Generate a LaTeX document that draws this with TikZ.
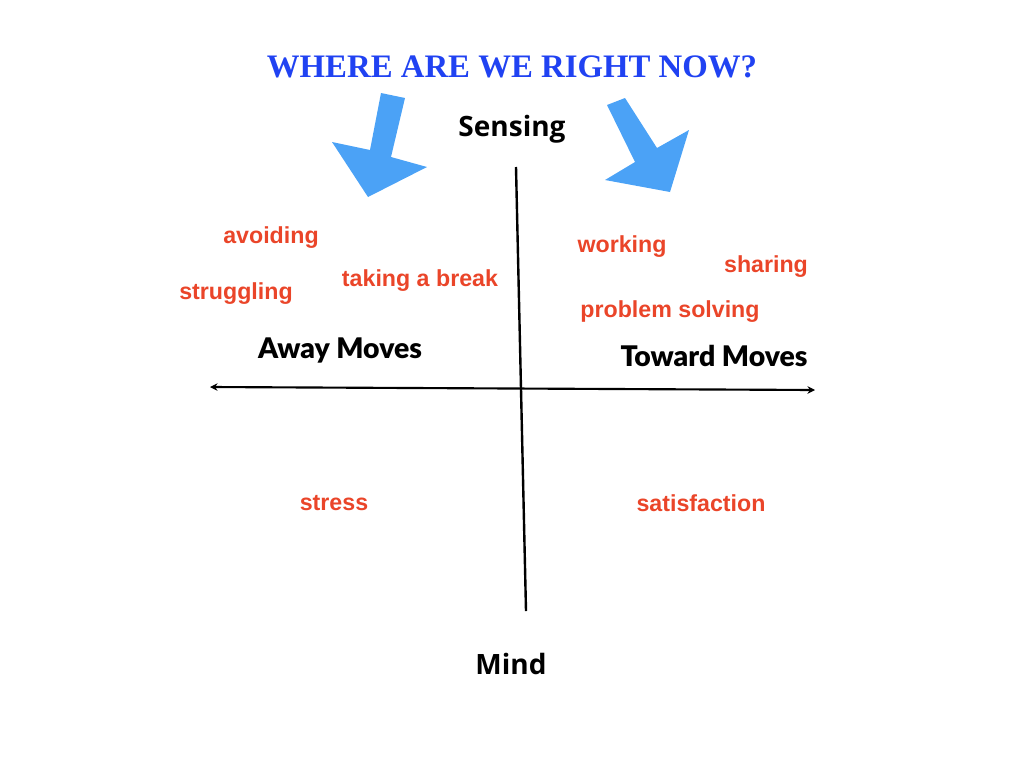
\documentclass[tikz,border=0pt]{standalone}
\usepackage{fontspec}
\setmainfont{Liberation Sans}
\newfontfamily\titlefont{Liberation Serif}
\newfontfamily\axisfont{Open Sans}
\newfontfamily\movefont{Lato Black}
\usepackage{xcolor}
\definecolor{cTitle}{HTML}{2042F2}
\definecolor{cWord}{HTML}{EA4529}
\definecolor{cPoint}{HTML}{4BA2F6}
\usepackage{tikz}
\usetikzlibrary{positioning,arrows.meta}
\tikzset{
  title-text/.style={text=cTitle,font=\titlefont\bfseries\fontsize{24.6}{28}\selectfont},
  axis-text/.style={font=\axisfont\bfseries\fontsize{21}{24}\selectfont},
  move-text/.style={font=\movefont\fontsize{21.3}{24}\selectfont},
  word/.style={text=cWord,font=\bfseries\fontsize{17.4}{20}\selectfont},
  axis-line/.style={line width=1.8pt,draw=black},
  axis-arrow/.style={{Stealth[length=2mm,width=2mm]}-{Stealth[length=2mm,width=2mm]},line width=1.6pt,draw=black},
  point-arrow/.style={fill=cPoint,draw=none},
}

\begin{document}
\begin{tikzpicture}[x=0.75pt,y=-0.75pt,inner sep=0pt]
  \useasboundingbox (0,0) rectangle (1024,768);
  % title and pointers
  \node[title-text] (title) at (512,67) {WHERE ARE WE RIGHT NOW?};
  \fill[point-arrow] (381,93) -- (405,98) -- (391,157) -- (427,167) -- (368,197)
    -- (332,142) -- (370,150) -- cycle;
  \fill[point-arrow] (607,105) -- (625,98) -- (657,148) -- (689,130) -- (670,192)
    -- (605,180) -- (635,162) -- cycle;
  % axes
  \node[axis-text] (sensing) at (512,129) {Sensing};
  \node[axis-text] (mind) at (511,664) {Mind};
  \coordinate (vtop) at (516,167);
  \coordinate (vbot) at (526,611);
  \coordinate (hleft) at (210,387);
  \coordinate (hright) at (815,390);
  \draw[axis-line] (vtop) -- (vbot);
  \draw[axis-arrow] (hleft) -- (hright);
  \node[move-text] (away) at (340,350) {Away Moves};
  \node[move-text] (toward) at (714,356) {Toward Moves};
  % words
  \node[word] (avoid) at (271,238) {avoiding};
  \node[word] (strug) at (236,294) {struggling};
  \node[word] (break) at (420,281) {taking a break};
  \node[word] (work) at (622,247) {working};
  \node[word] (share) at (766,267) {sharing};
  \node[word] (solve) at (670,312) {problem solving};
  \node[word] (stress) at (334,503) {stress};
  \node[word] (satis) at (701,503) {satisfaction};
\end{tikzpicture}
\end{document}
